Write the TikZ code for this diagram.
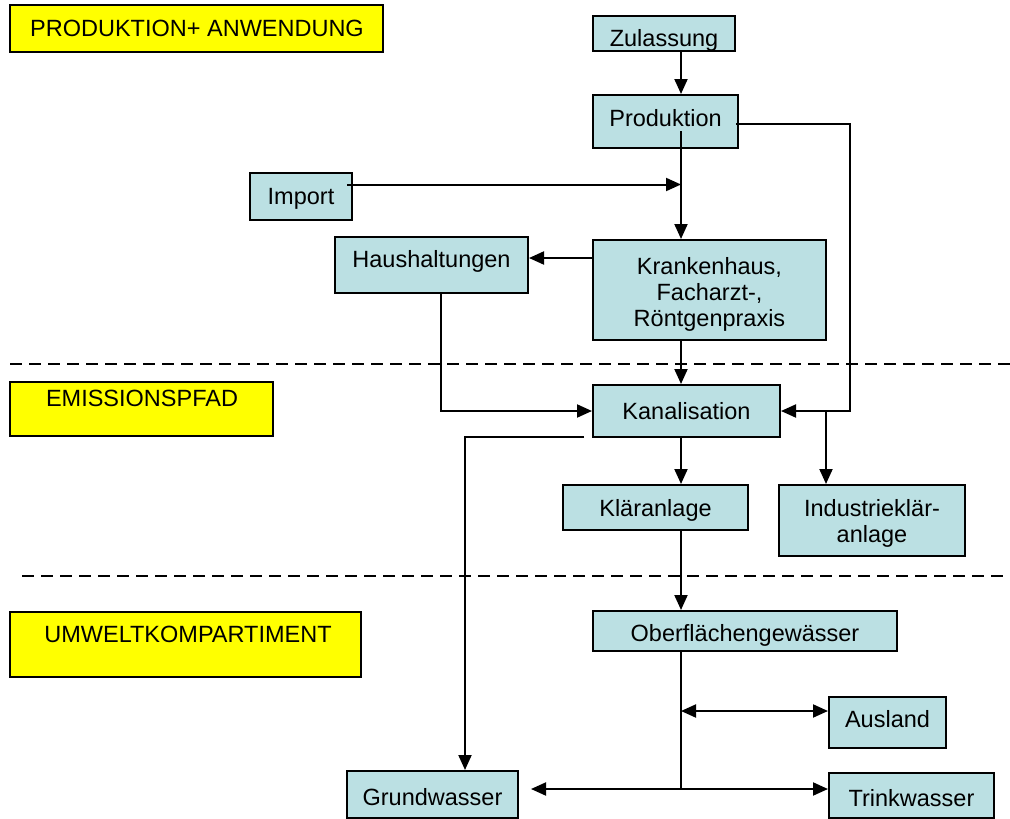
\documentclass[tikz,border=0pt]{standalone}
\usepackage{fontspec}
\setmainfont{Liberation Sans}
\usetikzlibrary{calc,arrows.meta}
\definecolor{boxblue}{RGB}{187,224,227}
\definecolor{labelyellow}{RGB}{255,255,0}
\newcommand\shft[2]{\raisebox{#1}[\height][\depth]{#2}}
\newcommand\lines[1]{\begin{tabular}{@{}c@{}}#1\end{tabular}}
\tikzset{
  bx/.style={draw=black, fill=boxblue, line width=2pt, inner sep=0pt, align=center,
    font=\fontsize{23.5}{26}\selectfont},
  yl/.style={draw=black, fill=labelyellow, line width=2pt, inner sep=0pt},
  ytext/.style={font=\fontsize{23.5}{26}\selectfont, inner sep=0pt},
  arr/.style={line width=2pt, -{Triangle[length=15pt,width=13pt]}},
  darr/.style={line width=2pt, {Triangle[length=15pt,width=13pt]}-{Triangle[length=15pt,width=13pt]}},
  ln/.style={line width=2pt},
  sep/.style={line width=2pt, dash pattern=on 12pt off 7pt},
}
\begin{document}
\begin{tikzpicture}[x=1pt,y=-1pt]
\useasboundingbox (0,0) rectangle (1010,819);

% section labels
\node[yl, minimum width=373pt, minimum height=47pt] (l1) at (196.5,28.5) {};
\node[ytext] (t1) at (197,28) {PRODUKTION+ ANWENDUNG};
\node[yl, minimum width=263pt, minimum height=54pt] (l2) at (141.5,409) {};
\node[ytext] (t2) at (142,398) {EMISSIONSPFAD};
\node[yl, minimum width=351pt, minimum height=65pt] (l3) at (185.5,644.5) {};
\node[ytext] (t3) at (188,634) {UMWELTKOMPARTIMENT};

% separators
\coordinate (s1a) at (10,364);
\coordinate (s1b) at (1010,364);
\coordinate (s2a) at (22,576);
\coordinate (s2b) at (1010,576);
\draw[sep] (s1a) -- (s1b);
\draw[sep] (s2a) -- (s2b);

% boxes
\node[bx, minimum width=142pt, minimum height=35pt] (zul) at (664,33.5) {\shft{-7pt}{Zulassung}};
\node[bx, minimum width=145pt, minimum height=53pt] (prod) at (665.5,121.5) {\shft{3pt}{Produktion}};
\node[bx, minimum width=102pt, minimum height=47pt] (imp) at (301,196.5) {\shft{-2pt}{Import}};
\node[bx, minimum width=193pt, minimum height=56pt] (hh) at (431.5,265) {\shft{3.5pt}{Haushaltungen}};
\node[bx, minimum width=233pt, minimum height=100pt] (kh) at (709.5,290) {\shft{-5pt}{\lines{Krankenhaus,\\Facharzt-,\\Röntgenpraxis}}};
\node[bx, minimum width=187pt, minimum height=52pt] (kan) at (686.5,411) {Kanalisation};
\node[bx, minimum width=185pt, minimum height=45pt] (kl) at (655.5,507.5) {\shft{-3pt}{Kläranlage}};
\node[bx, minimum width=186pt, minimum height=71pt] (ind) at (872,520.5) {\shft{-3.5pt}{\lines{Industrieklär-\\anlage}}};
\node[bx, minimum width=304pt, minimum height=40pt] (ob) at (745,631) {\shft{-4pt}{Oberflächengewässer}};
\node[bx, minimum width=117pt, minimum height=51pt] (aus) at (887.5,722.5) {\shft{3pt}{Ausland}};
\node[bx, minimum width=171pt, minimum height=47pt] (gw) at (432.5,794.5) {\shft{-3pt}{Grundwasser}};
\node[bx, minimum width=165pt, minimum height=45pt] (tw) at (911.5,795.5) {\shft{-3pt}{Trinkwasser}};

% helper coordinates
\coordinate (v) at (681,0);
\coordinate (r) at (850,0);
\coordinate (ix) at (826,0);
\coordinate (gx) at (465,0);
\coordinate (ps) at ($(prod.south -| v)+(0,-18)$);
\coordinate (pe) at ($(prod.east)+(-3,2.5)$);
\coordinate (ie) at ($(imp.east)+(-6,-12)$);
\coordinate (kw) at ($(kh.west)+(0,-32)$);
\coordinate (he) at ($(hh.east)+(0,-7)$);
\coordinate (hx) at ($(hh.south)+(9.5,0)$);
\coordinate (ks) at ($(kan.south west)+(-8,-1)$);
\coordinate (jb) at (681,789);
\coordinate (aw) at ($(aus.west)+(0,-11.5)$);
\coordinate (ge) at ($(gw.east)+(12,0)$);

% connectors
\draw[arr] (zul.south -| v) -- (prod.north -| v);
\draw[arr] (ps) -- (kh.north -| v);
\draw[arr] (pe) -- (pe -| r) -- (kan.east -| r) -- (kan.east);
\draw[arr] (ie) -- (ie -| v);
\draw[arr] (kw) -- (he);
\draw[arr] (hx) -- (hx |- kan.west) -- (kan.west);
\draw[arr] (kh.south -| v) -- (kan.north -| v);
\draw[arr] (kan.east -| ix) -- (ind.north -| ix);
\draw[arr] (kan.south -| v) -- (kl.north -| v);
\draw[arr] (ks) -- (ks -| gx) -- (gw.north -| gx);
\draw[arr] (kl.south -| v) -- (ob.north -| v);
\draw[ln] (ob.south -| v) -- (jb);
\draw[darr] (aw -| v) -- (aw);
\draw[arr] (jb) -- (jb -| ge);
\draw[arr] (jb) -- (jb -| tw.west);
\end{tikzpicture}
\end{document}
